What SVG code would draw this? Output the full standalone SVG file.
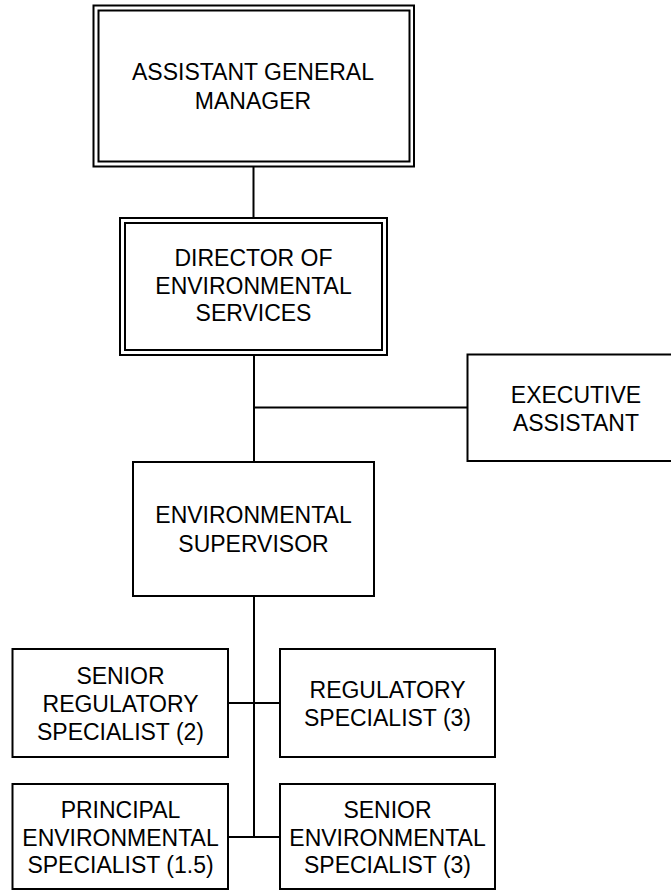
<svg xmlns="http://www.w3.org/2000/svg" width="671" height="891" viewBox="0 0 671 891">
<style>
.box{fill:#fff;stroke:#000;stroke-width:2}
.ln{fill:none;stroke:#000;stroke-width:2}
text{font-family:"Liberation Sans",Arial,sans-serif;font-size:23px;fill:#000;text-anchor:middle}
</style>
<rect width="671" height="891" fill="#fff"/>
<g id="connectors">
<line class="ln" x1="253.5" y1="166.5" x2="253.5" y2="218"/>
<line class="ln" x1="254" y1="355" x2="254" y2="462"/>
<line class="ln" x1="254" y1="407.5" x2="467.5" y2="407.5"/>
<line class="ln" x1="254" y1="596" x2="254" y2="837"/>
<line class="ln" x1="228" y1="703" x2="280" y2="703"/>
<line class="ln" x1="228" y1="837" x2="280" y2="837"/>
</g>
<g id="agm">
<rect class="box" x="93.5" y="5.5" width="320.5" height="161"/>
<rect class="box" x="98.5" y="10.5" width="311" height="151"/>
<text x="253" y="79.5">ASSISTANT GENERAL</text>
<text x="253" y="109">MANAGER</text>
</g>
<g id="director">
<rect class="box" x="120" y="218" width="267" height="137"/>
<rect class="box" x="125" y="223" width="257" height="127"/>
<text x="253.5" y="265.5">DIRECTOR OF</text>
<text x="253.5" y="293.5">ENVIRONMENTAL</text>
<text x="253.5" y="321">SERVICES</text>
</g>
<g id="exec">
<rect class="box" x="467.5" y="354.5" width="218" height="106.5"/>
<text x="576" y="402.5">EXECUTIVE</text>
<text x="576" y="430.5">ASSISTANT</text>
</g>
<g id="supervisor">
<rect class="box" x="133" y="462" width="241" height="134"/>
<text x="253.5" y="522.5">ENVIRONMENTAL</text>
<text x="253.5" y="552">SUPERVISOR</text>
</g>
<g id="senior-reg">
<rect class="box" x="12.5" y="649" width="215.5" height="108"/>
<text x="120.5" y="683.5">SENIOR</text>
<text x="120.5" y="712">REGULATORY</text>
<text x="120.5" y="739.5">SPECIALIST (2)</text>
</g>
<g id="reg">
<rect class="box" x="280" y="649" width="215" height="108"/>
<text x="387.5" y="697.5">REGULATORY</text>
<text x="387.5" y="726">SPECIALIST (3)</text>
</g>
<g id="principal-env">
<rect class="box" x="12.5" y="784" width="215.5" height="105"/>
<text x="120.5" y="817.5">PRINCIPAL</text>
<text x="120.5" y="845.5">ENVIRONMENTAL</text>
<text x="120.5" y="873">SPECIALIST (1.5)</text>
</g>
<g id="senior-env">
<rect class="box" x="280" y="784" width="215" height="105"/>
<text x="387.5" y="817.5">SENIOR</text>
<text x="387.5" y="845.5">ENVIRONMENTAL</text>
<text x="387.5" y="873">SPECIALIST (3)</text>
</g>
</svg>
